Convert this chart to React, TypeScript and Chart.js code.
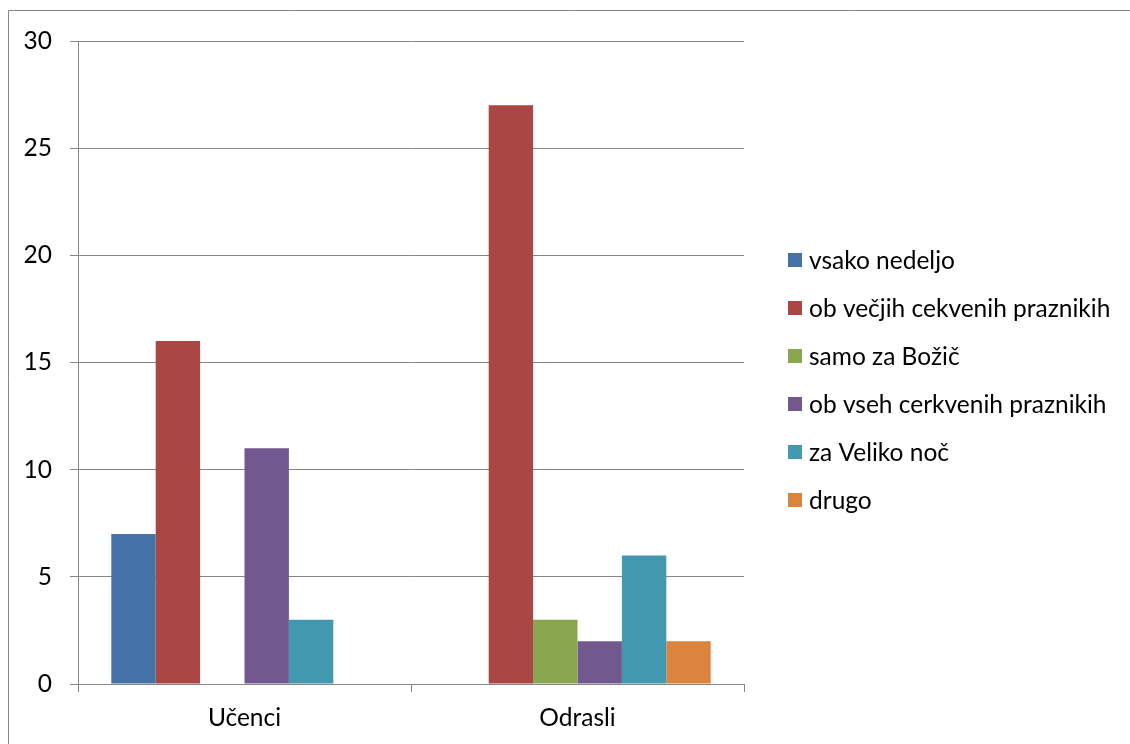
import React, { useEffect, useRef } from "react";
import { Chart, registerables } from "chart.js";

Chart.register(...registerables);

const categories = ["Učenci", "Odrasli"];
const seriesNames = [
  "vsako nedeljo",
  "ob večjih cekvenih praznikih",
  "samo za Božič",
  "ob vseh cerkvenih praznikih",
  "za Veliko noč",
  "drugo",
];
const vsakoNedeljo = [7, 0];
const obVecjih = [16, 27];
const samoZaBozic = [0, 3];
const obVseh = [11, 2];
const zaVelikoNoc = [3, 6];
const drugo = [0, 2];
const seriesValues = [vsakoNedeljo, obVecjih, samoZaBozic, obVseh, zaVelikoNoc, drugo];
const seriesColors = ["#4572A7", "#AA4643", "#89A54E", "#71588F", "#4198AF", "#DB843D"];
const yTicks = [0, 5, 10, 15, 20, 25, 30];

const FONT = "Lato, 'Noto Sans', sans-serif";
const FONT_SIZE = 24.5;
const GRID = "#868686";

const framePlugin = {
  id: "frameAndLegend",
  afterDraw(chart: any) {
    const ctx = chart.ctx as CanvasRenderingContext2D;
    ctx.save();
    ctx.strokeStyle = GRID;
    ctx.lineWidth = 1;
    ctx.beginPath();
    ctx.moveTo(8.5, 760);
    ctx.lineTo(8.5, 10.5);
    ctx.lineTo(1140, 10.5);
    ctx.stroke();

    const area = chart.chartArea;
    const boxX = area.right + 44;
    const firstY = 260;
    const step = 48;
    ctx.font = `${FONT_SIZE}px ${FONT}`;
    ctx.textBaseline = "middle";
    ctx.textAlign = "left";
    chart.data.datasets.forEach((ds: any, i: number) => {
      const y = firstY + i * step;
      ctx.fillStyle = ds.backgroundColor;
      ctx.fillRect(boxX, y - 7, 14, 14);
      ctx.fillStyle = "#000000";
      ctx.fillText(ds.label, boxX + 21, y + 1);
    });
    ctx.restore();
  },
};

export default function App() {
  const ref = useRef<HTMLCanvasElement | null>(null);
  useEffect(() => {
    if (!ref.current) return;
    const chart = new Chart(ref.current, {
      type: "bar",
      data: {
        labels: categories,
        datasets: seriesNames.map((name, i) => ({
          label: name,
          data: seriesValues[i],
          backgroundColor: seriesColors[i],
          borderWidth: 0,
          barPercentage: 1,
          categoryPercentage: 0.8,
        })),
      },
      options: {
        animation: false,
        responsive: false,
        devicePixelRatio: 1,
        layout: { padding: { left: 0, top: 41, right: 386, bottom: 0 } },
        plugins: {
          legend: { display: false },
          tooltip: { enabled: false },
          title: { display: false },
        },
        scales: {
          x: {
            type: "category",
            afterFit(scale: any) {
              scale.height = 60;
            },
            grid: {
              display: true,
              offset: true,
              drawOnChartArea: false,
              drawTicks: true,
              tickLength: 8,
              color: GRID,
              lineWidth: 1,
            },
            border: { display: true, color: GRID, width: 1 },
            ticks: {
              color: "#000000",
              font: { family: FONT, size: FONT_SIZE },
              padding: 11,
              maxRotation: 0,
            },
          },
          y: {
            min: 0,
            max: 30,
            afterFit(scale: any) {
              scale.width = 78;
            },
            afterBuildTicks(scale: any) {
              scale.ticks = yTicks.map((v) => ({ value: v }));
            },
            grid: {
              color: GRID,
              lineWidth: 1,
              drawTicks: true,
              tickLength: 8,
            },
            border: { display: true, color: GRID, width: 1 },
            ticks: {
              color: "#000000",
              font: { family: FONT, size: FONT_SIZE },
              padding: 18,
            },
          },
        },
      },
      plugins: [framePlugin],
    });
    return () => chart.destroy();
  }, []);
  return (
    <canvas
      ref={ref}
      width={1130}
      height={744}
      style={{ position: "fixed", left: 0, top: 0, width: 1130, height: 744, background: "#ffffff" }}
    />
  );
}
